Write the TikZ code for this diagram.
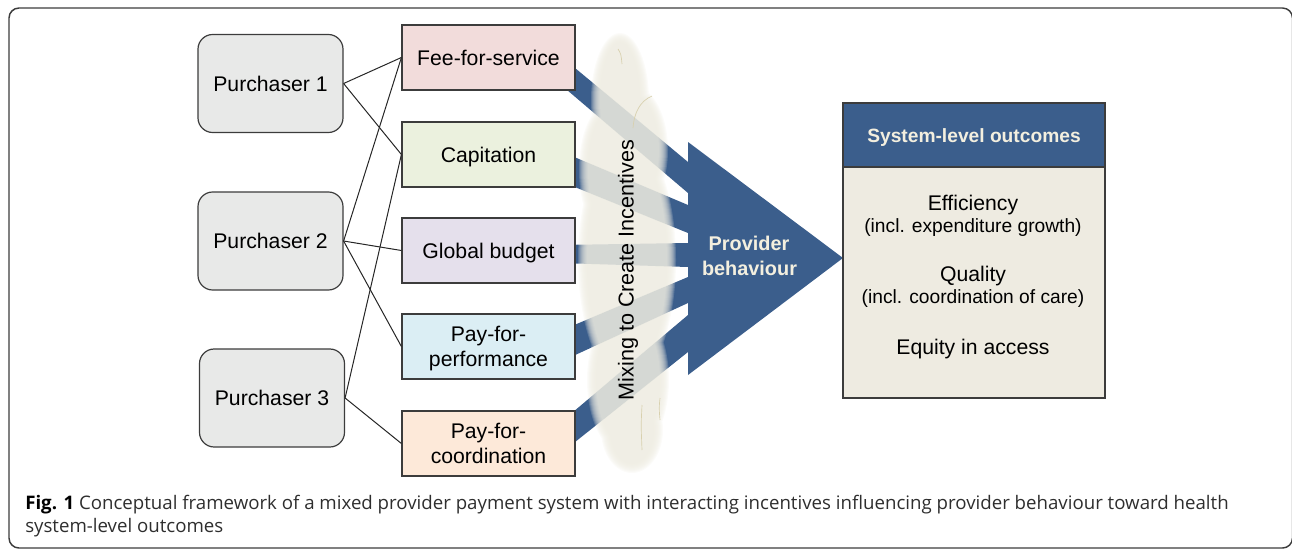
\documentclass[tikz,border=0pt]{standalone}
\usepackage{fontspec}
\setmainfont{Liberation Sans}
\newfontfamily\capfont{Open Sans}
\usetikzlibrary{calc}

\definecolor{navy}{HTML}{3B5E8C}
\definecolor{cream}{HTML}{F3EFDF}
\definecolor{bodyfill}{HTML}{EEEBE1}
\definecolor{purchfill}{HTML}{E8E9E8}
\definecolor{ffsfill}{HTML}{F2DCDB}
\definecolor{capfill}{HTML}{EBF1DE}
\definecolor{gbfill}{HTML}{E5E0EC}
\definecolor{pfpfill}{HTML}{DBEEF4}
\definecolor{pfcfill}{HTML}{FDE9D9}
\definecolor{cloudfill}{HTML}{EEECE1}
\definecolor{cloudline}{HTML}{D8D0AE}
\definecolor{edge}{HTML}{3C3C3C}
\definecolor{captext}{HTML}{2E2E2E}

\tikzset{
  purch/.style={draw=edge, line width=0.9pt, fill=purchfill, rounded corners=11pt,
    minimum width=108.75pt, minimum height=73.5pt, inner sep=0pt},
  paybox/.style={draw=edge, line width=0.9pt, minimum width=129.75pt,
    minimum height=48.75pt, inner sep=0pt},
  lbl/.style={anchor=base, inner sep=0pt, font=\fontsize{15.9}{19}\selectfont},
  sublbl/.style={anchor=base, inner sep=0pt, font=\fontsize{14.4}{17}\selectfont},
  boldlbl/.style={anchor=base, inner sep=0pt, text=cream,
    font=\fontsize{14.9}{18}\selectfont\bfseries},
  conn/.style={draw=black!85, line width=0.75pt},
  captxt/.style={anchor=base west, inner sep=0pt, text=captext,
    font=\capfont\fontsize{14}{17}\selectfont},
}

\begin{document}
\begin{tikzpicture}[x=0.75pt, y=-0.75pt]
\useasboundingbox (0,0) rectangle (1292,550);

% outer frame
\draw[edge, line width=1.1pt, rounded corners=7.5pt] (9,8) rectangle (1292.5,548);

% payment bands and the provider-behaviour arrow head
\fill[navy]
  (560,55.5) -- (688,162) -- (688,193) -- (560,84) -- cycle
  (560,151) -- (688,205) -- (688,233) -- (560,181) -- cycle
  (560,245) -- (688,243) -- (688,267) -- (560,263) -- cycle
  (560,331) -- (688,277) -- (688,303) -- (560,362) -- cycle
  (560,423) -- (688,315) -- (688,352) -- (560,454) -- cycle
  (688,142) -- (843,258) -- (688,375) -- cycle;

% mixing cloud, built up from faint layers so that its rim is soft
\foreach \d in {4,3,2,1,0,-1,-2,-3,-4,-5} {
  \fill[cloudfill, fill opacity=0.19]
    \foreach \cx/\cy/\rx/\ry in {620/100/25/63, 633/150/31/60, 606/170/23/60,
                                  627/260/45/120, 628/380/37/72, 632/430/27/39}
      { (\cx,\cy) ellipse [x radius=\rx+\d, y radius=\ry+\d] };
}
\draw[cloudline, line width=0.5pt]
  (618,49) .. controls (621,54) .. (622,64)
  (652,96) .. controls (640,101) and (634,113) .. (633,128)
  (642,405) .. controls (641,425) .. (642,450)
  (660,398) .. controls (659,408) .. (660,420);
\node[rotate=90, anchor=base, inner sep=0pt, font=\fontsize{16.2}{19}\selectfont]
  (mixing) at (633.5,270) {Mixing to Create Incentives};

% purchasers
\node[purch] (p1) at (270.5,83.5) {};
\node[purch] (p2) at (270.5,241) {};
\node[purch] (p3) at (272,398) {};
\node[lbl] (p1t) at ($(p1.center)+(0,7.6)$) {Purchaser 1};
\node[lbl] (p2t) at ($(p2.center)+(0,7.6)$) {Purchaser 2};
\node[lbl] (p3t) at ($(p3.center)+(0,7.6)$) {Purchaser 3};

% payment mechanisms
\node[paybox, fill=ffsfill] (ffs) at (488.5,57.5) {};
\node[paybox, fill=capfill] (cap) at (488.5,154.5) {};
\node[paybox, fill=gbfill]  (gb)  at (488.5,250.5) {};
\node[paybox, fill=pfpfill] (pfp) at (488.5,346.5) {};
\node[paybox, fill=pfcfill] (pfc) at (488.5,443.5) {};
\node[lbl] (ffst) at ($(ffs.center)+(0,7.8)$) {Fee-for-service};
\node[lbl] (capt) at ($(cap.center)+(0,7.8)$) {Capitation};
\node[lbl] (gbt)  at ($(gb.center)+(0,7.8)$) {Global budget};
\node[lbl] (pfpa) at ($(pfp.center)+(0,-4.9)$) {Pay-for-};
\node[lbl] (pfpb) at ($(pfp.center)+(0,20.1)$) {performance};
\node[lbl] (pfca) at ($(pfc.center)+(0,-5.1)$) {Pay-for-};
\node[lbl] (pfcb) at ($(pfc.center)+(0,19.9)$) {coordination};

% purchaser-to-mechanism links
\draw[conn] (p1.east) -- (ffs.west);
\draw[conn] (p1.east) -- (cap.west);
\draw[conn] (p2.east) -- (ffs.west);
\draw[conn] (p2.east) -- (gb.west);
\draw[conn] (p2.east) -- (pfp.west);
\draw[conn] (p3.east) -- (cap.west);
\draw[conn] (p3.east) -- (pfc.west);

% provider behaviour label
\node[boldlbl] (prov1) at (749,250.7) {Provider};
\node[boldlbl] (prov2) at (749.5,275) {behaviour};

% outcomes panel
\node[draw=edge, line width=0.9pt, fill=bodyfill, minimum width=196.5pt,
  minimum height=221.25pt, inner sep=0pt] (out) at (974,250.5) {};
\node[draw=edge, line width=0.9pt, fill=navy, minimum width=196.5pt,
  minimum height=48pt, inner sep=0pt, anchor=north] (outhead) at (out.north) {};
\node[boldlbl, font=\fontsize{14.4}{17}\selectfont\bfseries] (headt) at (974,142.7) {System-level outcomes};
\node[lbl] (eff)   at (973,210.7) {Efficiency};
\node[sublbl] (effs) at (973,232.7) {(incl. expenditure growth)};
\node[lbl] (qual)  at (973,281.7) {Quality};
\node[sublbl] (quals) at (973,303.3) {(incl. coordination of care)};
\node[lbl] (eq)    at (973,354) {Equity in access};

% caption
\node[captxt] (cap1) at (25,509)
  {\textcolor{black}{\textbf{Fig. 1}} Conceptual framework of a mixed provider payment system with interacting incentives influencing provider behaviour toward health};
\node[captxt] (cap2) at (25,532) {system-level outcomes};
\end{tikzpicture}
\end{document}
